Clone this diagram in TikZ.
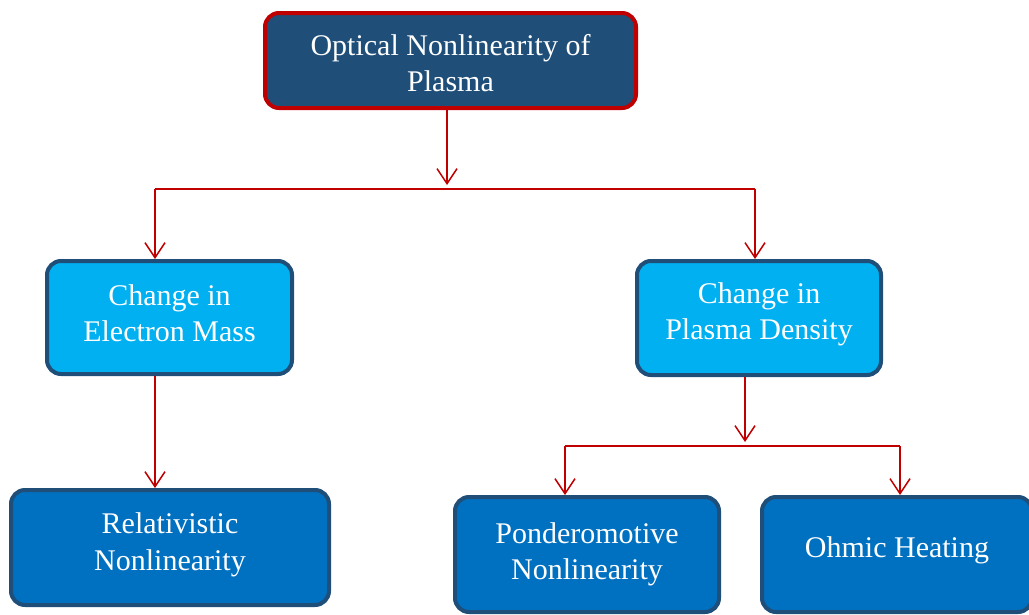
\documentclass[tikz,border=0pt]{standalone}
\usepackage{fontspec}
\setmainfont{Liberation Serif}
\usetikzlibrary{arrows.meta}
\definecolor{topfill}{HTML}{1F4E79}
\definecolor{redline}{HTML}{C00000}
\definecolor{midfill}{HTML}{00B0F0}
\definecolor{botfill}{HTML}{0070C0}
\definecolor{edge}{HTML}{1F4E79}
\newcommand{\myshift}[2]{\raisebox{#1}[\height][\depth]{#2}}
\tikzset{
  box/.style={rectangle, rounded corners=14pt, line width=4pt, text=white, align=center,
    inner sep=0pt, font=\fontsize{30}{36}\selectfont},
  topbox/.style={box, fill=topfill, draw=redline},
  midbox/.style={box, fill=midfill, draw=edge},
  botbox/.style={box, fill=botfill, draw=edge},
  conn/.style={draw=redline, line width=1.5pt},
  arr/.style={conn, -{Straight Barb[length=15pt,width=20pt,line width=1.5pt]}}
}
\begin{document}
\begin{tikzpicture}[x=1pt,y=-1pt]
\useasboundingbox (0,0) rectangle (1029,614);
\clip (0,0) rectangle (1029,614);
\node[topbox, minimum width=371pt, minimum height=95pt] (top) at (450.5,60.5) {\myshift{-3pt}{Optical Nonlinearity of}\\\myshift{-3pt}{Plasma}};
\node[midbox, minimum width=245pt, minimum height=113pt] (m1) at (169.5,317.5) {\myshift{4.5pt}{Change in}\\\myshift{4.5pt}{Electron Mass}};
\node[midbox, minimum width=244pt, minimum height=114pt] (m2) at (759,318) {\myshift{3.5pt}{Change in}\\\myshift{3.5pt}{Plasma Density}};
\node[botbox, minimum width=318pt, minimum height=115pt] (b1) at (170,547.5) {\myshift{3pt}{Relativistic}\\\myshift{2pt}{Nonlinearity}};
\node[botbox, minimum width=264pt, minimum height=115pt] (b2) at (587,554.5) {Ponderomotive\\Nonlinearity};
\node[botbox, minimum width=270pt, minimum height=115pt] (b3) at (897,554.5) {\myshift{4pt}{Ohmic Heating}};
\coordinate (j1) at (447,189);
\coordinate (j1l) at (155,189);
\coordinate (j1r) at (755,189);
\coordinate (j2) at (745,446);
\coordinate (j2l) at (565,446);
\coordinate (j2r) at (900,446);
\draw[arr] (top.south -| j1) -- (447,185);
\draw[conn] (j1l) -- (j1r);
\draw[arr] (j1l) -- (m1.north -| j1l);
\draw[arr] (j1r) -- (m2.north -| j1r);
\draw[arr] (m1.south -| j1l) -- (b1.north -| j1l);
\draw[arr] (m2.south -| j2) -- (745,442);
\draw[conn] (j2l) -- (j2r);
\draw[arr] (j2l) -- (b2.north -| j2l);
\draw[arr] (j2r) -- (b3.north -| j2r);
\end{tikzpicture}
\end{document}
